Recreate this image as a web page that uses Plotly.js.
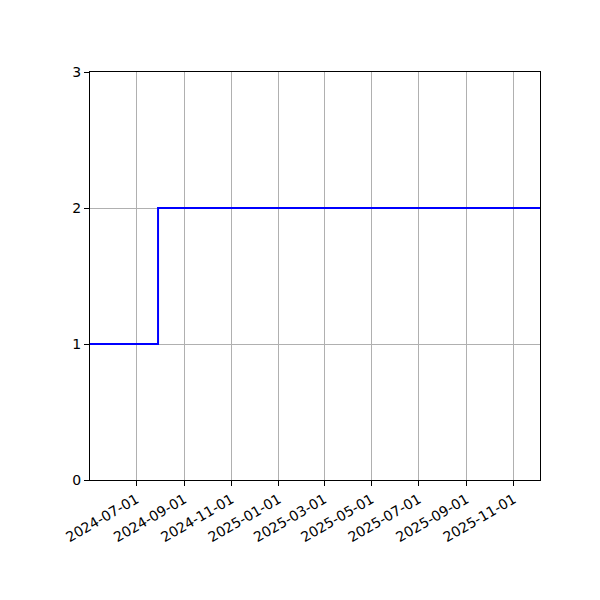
<!DOCTYPE html>
<html>
<head>
<meta charset="utf-8">
<script src="https://cdn.plot.ly/plotly-3.0.1.min.js"></script>
<style>
  html, body { margin: 0; padding: 0; background: #fff; }
  #chart { width: 600px; height: 600px; }
</style>
</head>
<body>
<div id="chart"></div>
<script>
// step series: value holds until the next date
const dates = ["2024-05-02", "2024-07-29", "2025-12-05"];
const values = [1, 2, 2];

const xTicks = ["2024-07-01", "2024-09-01", "2024-11-01", "2025-01-01", "2025-03-01",
                "2025-05-01", "2025-07-01", "2025-09-01", "2025-11-01"];
const yTicks = [0, 1, 2, 3];

const axisStyle = {
  showline: true,
  linecolor: "#000",
  linewidth: 1,
  mirror: true,
  ticks: "outside",
  ticklen: 5,
  tickcolor: "#000",
  showgrid: true,
  gridcolor: "#b0b0b0",
  gridwidth: 1,
  zeroline: false,
  tickfont: { family: "DejaVu Sans", size: 14, color: "#000" },
};

Plotly.newPlot("chart", [{
  type: "scatter",
  mode: "lines",
  x: dates,
  y: values,
  line: { color: "#0000ff", width: 2, shape: "hv" },
  hoverinfo: "skip",
}], {
  width: 600,
  height: 600,
  paper_bgcolor: "#fff",
  plot_bgcolor: "#fff",
  showlegend: false,
  margin: { l: 90, r: 60, t: 72, b: 120 },
  xaxis: Object.assign({}, axisStyle, {
    type: "date",
    range: [dates[0], dates[dates.length - 1]],
    tickmode: "array",
    tickvals: xTicks,
    ticktext: xTicks,
    tickangle: -30,
  }),
  yaxis: Object.assign({}, axisStyle, {
    range: [0, 3],
    tickmode: "array",
    tickvals: yTicks,
  }),
}, { displayModeBar: false, staticPlot: true });
</script>
</body>
</html>
